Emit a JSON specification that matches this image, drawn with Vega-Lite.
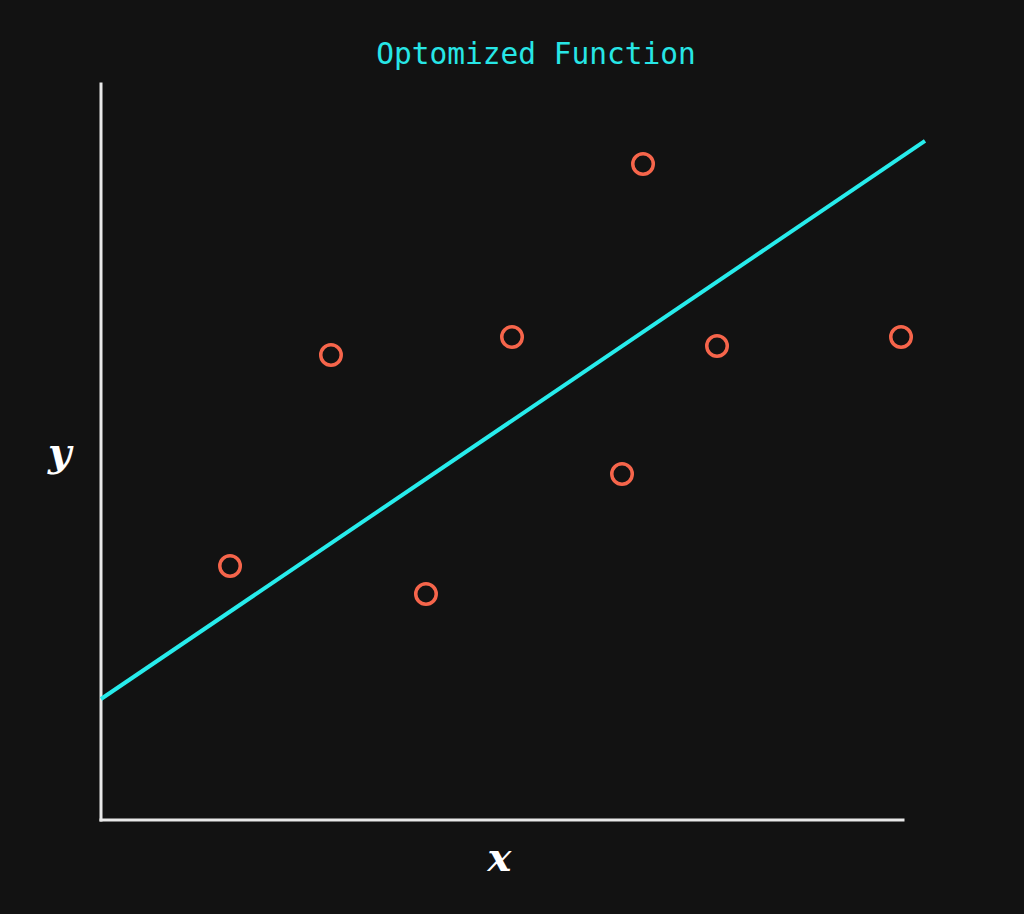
{
  "$schema": "https://vega.github.io/schema/vega-lite/v6.json",
  "autosize": "none",
  "width": 824,
  "height": 736,
  "padding": {"left": 101, "top": 84, "right": 99, "bottom": 94},
  "background": "#121212",
  "config": {"view": {"stroke": null}},
  "title": {
    "text": "Optomized Function",
    "font": "DejaVu Sans Mono",
    "fontSize": 29.5,
    "fontWeight": "normal",
    "color": "#27e6e6",
    "anchor": "middle",
    "dx": 23,
    "offset": -12,
    "baseline": "alphabetic"
  },
  "datasets": {
    "points": [
      {"x": 1.566, "y": 3.451},
      {"x": 2.791, "y": 6.318},
      {"x": 3.944, "y": 3.071},
      {"x": 4.988, "y": 6.563},
      {"x": 6.323, "y": 4.701},
      {"x": 6.578, "y": 8.913},
      {"x": 7.476, "y": 6.440},
      {"x": 9.709, "y": 6.563}
    ],
    "fit": [
      {"x": 0, "y": 1.644},
      {"x": 10, "y": 9.226}
    ],
    "axes": [
      {"x": 0, "y": 0, "x2": 0, "y2": 10},
      {"x": 0, "y": 0, "x2": 9.733, "y2": 0}
    ]
  },
  "layer": [
    {
      "data": {"name": "axes"},
      "mark": {"type": "rule", "color": "#e8e8e8", "strokeWidth": 3, "strokeCap": "square"},
      "encoding": {
        "x": {"field": "x", "type": "quantitative", "scale": {"domain": [0, 10]},
          "axis": {"domain": false, "ticks": false, "labels": false, "grid": false, "title": "x",
            "titleFont": "DejaVu Serif", "titleFontStyle": "italic", "titleFontSize": 40, "titleFontWeight": "bold",
            "titleColor": "#ffffff", "titleX": 398, "titleY": 50, "titleBaseline": "alphabetic", "titleAlign": "center"}},
        "y": {"field": "y", "type": "quantitative", "scale": {"domain": [0, 10]},
          "axis": {"domain": false, "ticks": false, "labels": false, "grid": false, "title": "y",
            "titleFont": "DejaVu Serif", "titleFontStyle": "italic", "titleFontSize": 40, "titleFontWeight": "bold",
            "titleColor": "#ffffff", "titleAngle": 0, "titleX": -42, "titleY": 381, "titleBaseline": "alphabetic", "titleAlign": "center"}},
        "x2": {"field": "x2"},
        "y2": {"field": "y2"}
      }
    },
    {
      "data": {"name": "fit"},
      "mark": {"type": "line", "color": "#27ecec", "strokeWidth": 4},
      "encoding": {
        "x": {"field": "x", "type": "quantitative"},
        "y": {"field": "y", "type": "quantitative"}
      }
    },
    {
      "data": {"name": "points"},
      "mark": {"type": "point", "shape": "circle", "filled": false, "color": "#f6654b", "strokeWidth": 3.5, "size": 420, "opacity": 1},
      "encoding": {
        "x": {"field": "x", "type": "quantitative"},
        "y": {"field": "y", "type": "quantitative"}
      }
    }
  ]
}
